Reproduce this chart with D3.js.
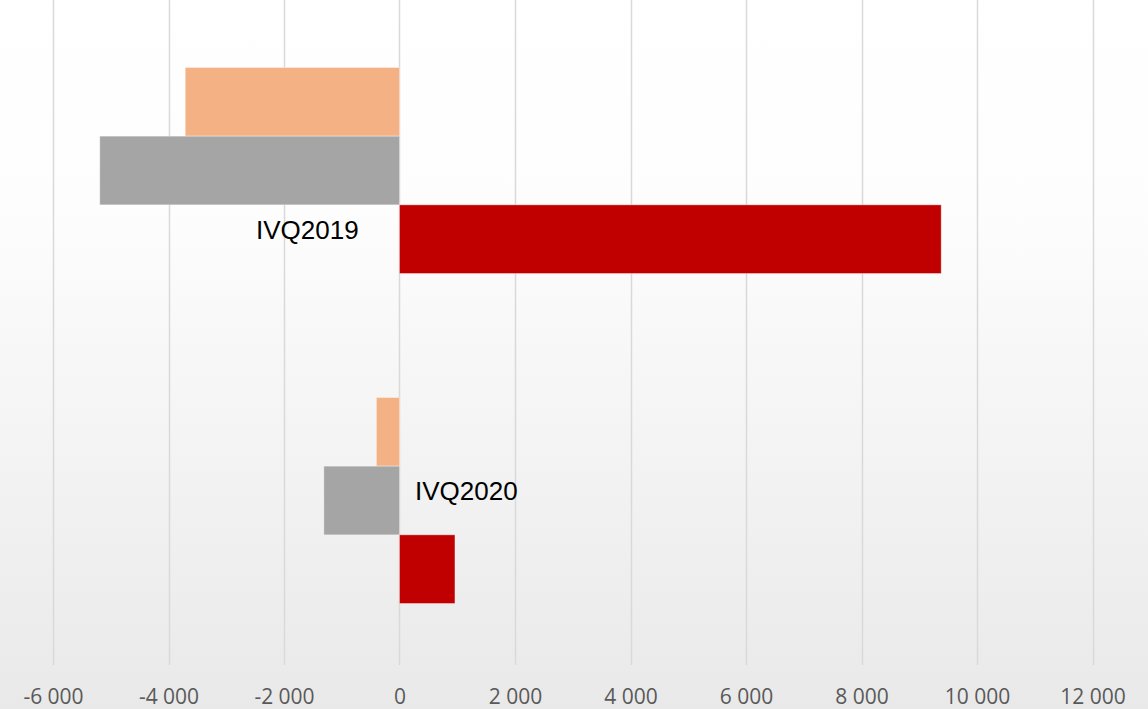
<!DOCTYPE html>
<html>
<head>
<meta charset="utf-8">
<script src="https://cdn.jsdelivr.net/npm/d3@7/dist/d3.min.js"></script>
<style>
  html, body { margin: 0; padding: 0; background: #fff; }
  svg { display: block; }
</style>
</head>
<body>
<svg id="chart" width="1148" height="709"></svg>
<script>
// ---- data ----
const categories = ["IVQ2019", "IVQ2020"];
const seriesNames = ["Series 1", "Series 2", "Series 3"];
const series1 = [-3710, -400];   // peach
const series2 = [-5190, -1310];  // grey
const series3 = [9380, 960];     // red
const seriesColors = ["#F4B183", "#A5A5A5", "#C00000"];
const tickValues = [-6000, -4000, -2000, 0, 2000, 4000, 6000, 8000, 10000, 12000];

const W = 1148, H = 709;
const svg = d3.select("#chart");

// background gradient
const defs = svg.append("defs");
const grad = defs.append("linearGradient").attr("id", "bg")
  .attr("x1", 0).attr("y1", 0).attr("x2", 0).attr("y2", 1);
grad.append("stop").attr("offset", "0%").attr("stop-color", "#ffffff");
grad.append("stop").attr("offset", "30%").attr("stop-color", "#fdfdfd");
grad.append("stop").attr("offset", "100%").attr("stop-color", "#e9e9e9");
svg.append("rect").attr("width", W).attr("height", H).attr("fill", "url(#bg)");

const x = d3.scaleLinear().domain([-6000, 12000]).range([53, 1092.5]);
const y = d3.scaleBand().domain(categories).range([5.5, 665.5])
  .paddingInner(124 / 330).paddingOuter(0.1879);
const ySub = d3.scaleBand().domain(seriesNames).range([0, y.bandwidth()]);

const locale = d3.formatLocale({ decimal: ",", thousands: " ", grouping: [3], currency: ["", ""], minus: "-" });
const fmt = locale.format(",d");

// gridlines
svg.append("g").selectAll("line").data(tickValues).join("line")
  .attr("x1", d => Math.round(x(d)) + 0.5).attr("x2", d => Math.round(x(d)) + 0.5)
  .attr("y1", 0).attr("y2", 665)
  .attr("stroke", "#d9d9d9").attr("stroke-width", 1.5);

// bars
const allSeries = [series1, series2, series3];
const rows = [];
categories.forEach((c, i) => {
  allSeries.forEach((s, j) => rows.push({ cat: c, name: seriesNames[j], value: s[i], color: seriesColors[j] }));
});
svg.append("g").selectAll("rect").data(rows).join("rect")
  .attr("x", d => x(Math.min(0, d.value)))
  .attr("width", d => Math.abs(x(d.value) - x(0)))
  .attr("y", d => y(d.cat) + ySub(d.name))
  .attr("height", ySub.bandwidth())
  .attr("fill", d => d.color)
  .attr("stroke", "rgba(255,255,255,0.35)").attr("stroke-width", 1);

// x axis labels
const axis = d3.axisBottom(x).tickValues(tickValues).tickFormat(fmt).tickSize(0);
const gAxis = svg.append("g").attr("transform", "translate(0,682)").call(axis);
gAxis.select(".domain").remove();
gAxis.selectAll("text")
  .attr("font-family", "'Open Sans', sans-serif").attr("font-size", 21)
  .attr("fill", "#595959").attr("dy", 0).attr("y", 22);

// category labels
const labelPos = [
  { x: 256, y: 239 },
  { x: 415, y: 500 }
];
svg.append("g").selectAll("text").data(categories).join("text")
  .attr("x", (d, i) => labelPos[i].x)
  .attr("y", (d, i) => labelPos[i].y)
  .attr("font-family", "'Liberation Sans', Arial, sans-serif")
  .attr("font-size", 26).attr("fill", "#000")
  .text(d => d);
</script>
</body>
</html>
